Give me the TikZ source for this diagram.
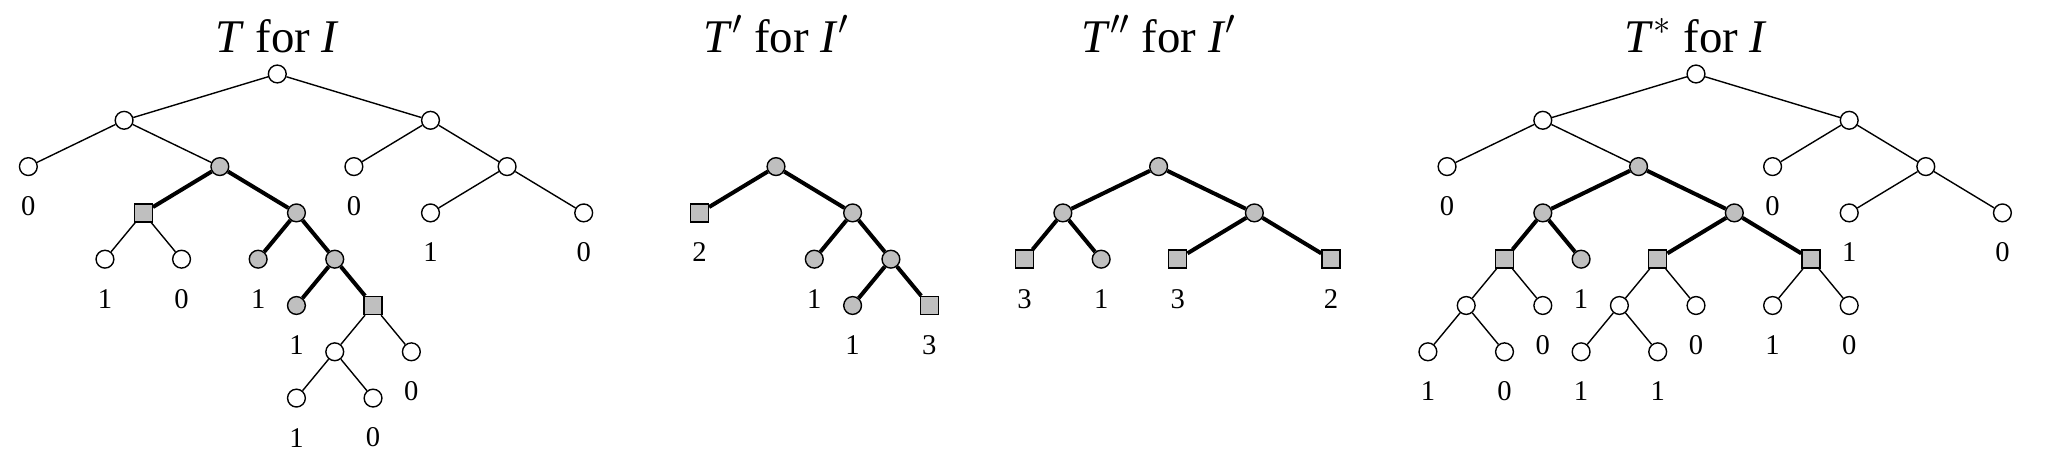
\documentclass[tikz,border=0pt]{standalone}
\usepackage{fontspec}
\setmainfont{Liberation Serif}
\pgfdeclarelayer{bg}
\pgfsetlayers{bg,main}
\tikzset{
  wn/.style={circle, draw, line width=0.7pt, fill=white, inner sep=0pt, minimum size=8.9pt},
  gn/.style={wn, fill=black!25},
  sq/.style={rectangle, draw, line width=0.7pt, fill=black!25, inner sep=0pt, minimum size=9pt},
  thn/.style={line width=0.7pt},
  thk/.style={line width=2pt},
  lab/.style={inner sep=0pt, font=\fontsize{14.3}{16}\selectfont},
  ttl/.style={inner sep=0pt, anchor=base, font=\fontsize{23.4}{28}\selectfont},
  tree/.style={x=19.15pt, y=-23.15pt},
}
\newcommand\leaflab[2]{\node[lab] (l#1) at ([yshift=-19.75pt]#1) {#2};}
\begin{document}
\begin{tikzpicture}[x=0.5pt,y=-0.5pt]
\useasboundingbox (0,0) rectangle (2045,469);

% ---------------- T for I ----------------
\begin{scope}[shift={(138.65pt,-37pt)}, tree]
\node[ttl] (tt1) at (0,0) [yshift=10.65pt] {\textit{T} for \textit{I}};
\node[wn] (t0) at (0,0) {};
\node[wn] (t1) at (-4,1) {};
\node[wn] (t2) at (4,1) {};
\node[wn] (t3) at (-6.5,2) {};
\node[gn] (t4) at (-1.5,2) {};
\node[wn] (t5) at (2,2) {};
\node[wn] (t6) at (6,2) {};
\node[sq] (t7) at (-3.5,3) {};
\node[gn] (t8) at (0.5,3) {};
\node[wn] (t9) at (4,3) {};
\node[wn] (t10) at (8,3) {};
\node[wn] (t11) at (-4.5,4) {};
\node[wn] (t12) at (-2.5,4) {};
\node[gn] (t13) at (-0.5,4) {};
\node[gn] (t14) at (1.5,4) {};
\node[gn] (t15) at (0.5,5) {};
\node[sq] (t16) at (2.5,5) {};
\node[wn] (t17) at (1.5,6) {};
\node[wn] (t18) at (3.5,6) {};
\node[wn] (t19) at (0.5,7) {};
\node[wn] (t20) at (2.5,7) {};
\begin{pgfonlayer}{bg}
\foreach \a/\b in {t0/t1,t0/t2,t1/t3,t1/t4,t2/t5,t2/t6,t6/t9,t6/t10,t7/t11,t7/t12,t16/t17,t16/t18,t17/t19,t17/t20}
  \draw[thn] (\a) -- (\b);
\foreach \a/\b in {t4/t7,t4/t8,t8/t13,t8/t14,t14/t15,t14/t16}
  \draw[thk] (\a) -- (\b);
\end{pgfonlayer}
\leaflab{t3}{0}
\leaflab{t5}{0}
\leaflab{t9}{1}
\leaflab{t10}{0}
\leaflab{t11}{1}
\leaflab{t12}{0}
\leaflab{t13}{1}
\leaflab{t15}{1}
\leaflab{t18}{0}
\leaflab{t19}{1}
\leaflab{t20}{0}
\end{scope}

% ---------------- T' for I' ----------------
\begin{scope}[shift={(388pt,-37pt)}, tree]
\node[ttl] (tt2) at (0,0) [yshift=10.65pt] {\textit{T}$'$ for \textit{I}$'$};
\node[gn] (p0) at (0,2) {};
\node[sq] (p1) at (-2,3) {};
\node[gn] (p2) at (2,3) {};
\node[gn] (p3) at (1,4) {};
\node[gn] (p4) at (3,4) {};
\node[gn] (p5) at (2,5) {};
\node[sq] (p6) at (4,5) {};
\begin{pgfonlayer}{bg}
\foreach \a/\b in {p0/p1,p0/p2,p2/p3,p2/p4,p4/p5,p4/p6}
  \draw[thk] (\a) -- (\b);
\end{pgfonlayer}
\leaflab{p1}{2}
\leaflab{p3}{1}
\leaflab{p5}{1}
\leaflab{p6}{3}
\end{scope}

% ---------------- T'' for I' ----------------
\begin{scope}[shift={(579.3pt,-37pt)}, tree]
\node[ttl] (tt3) at (0,0) [yshift=10.65pt] {\textit{T}$''$ for \textit{I}$'$};
\node[gn] (q0) at (0,2) {};
\node[gn] (q1) at (-2.5,3) {};
\node[gn] (q2) at (2.5,3) {};
\node[sq] (q3) at (-3.5,4) {};
\node[gn] (q4) at (-1.5,4) {};
\node[sq] (q5) at (0.5,4) {};
\node[sq] (q6) at (4.5,4) {};
\begin{pgfonlayer}{bg}
\foreach \a/\b in {q0/q1,q0/q2,q1/q3,q1/q4,q2/q5,q2/q6}
  \draw[thk] (\a) -- (\b);
\end{pgfonlayer}
\leaflab{q3}{3}
\leaflab{q4}{1}
\leaflab{q5}{3}
\leaflab{q6}{2}
\end{scope}

% ---------------- T* for I ----------------
\begin{scope}[shift={(848pt,-37pt)}, tree]
\node[ttl] (tt4) at (0,0) [yshift=10.65pt] {\textit{T}$^{*}$ for \textit{I}};
\node[wn] (s0) at (0,0) {};
\node[wn] (s1) at (-4,1) {};
\node[wn] (s2) at (4,1) {};
\node[wn] (s3) at (-6.5,2) {};
\node[gn] (s4) at (-1.5,2) {};
\node[wn] (s5) at (2,2) {};
\node[wn] (s6) at (6,2) {};
\node[gn] (s7) at (-4,3) {};
\node[gn] (s8) at (1,3) {};
\node[wn] (s9) at (4,3) {};
\node[wn] (s10) at (8,3) {};
\node[sq] (s11) at (-5,4) {};
\node[gn] (s12) at (-3,4) {};
\node[sq] (s13) at (-1,4) {};
\node[sq] (s14) at (3,4) {};
\node[wn] (s15) at (-6,5) {};
\node[wn] (s16) at (-4,5) {};
\node[wn] (s17) at (-2,5) {};
\node[wn] (s18) at (0,5) {};
\node[wn] (s19) at (2,5) {};
\node[wn] (s20) at (4,5) {};
\node[wn] (s21) at (-7,6) {};
\node[wn] (s22) at (-5,6) {};
\node[wn] (s23) at (-3,6) {};
\node[wn] (s24) at (-1,6) {};
\begin{pgfonlayer}{bg}
\foreach \a/\b in {s0/s1,s0/s2,s1/s3,s1/s4,s2/s5,s2/s6,s6/s9,s6/s10,s11/s15,s11/s16,s13/s17,s13/s18,s14/s19,s14/s20,s15/s21,s15/s22,s17/s23,s17/s24}
  \draw[thn] (\a) -- (\b);
\foreach \a/\b in {s4/s7,s4/s8,s7/s11,s7/s12,s8/s13,s8/s14}
  \draw[thk] (\a) -- (\b);
\end{pgfonlayer}
\leaflab{s3}{0}
\leaflab{s5}{0}
\leaflab{s9}{1}
\leaflab{s10}{0}
\leaflab{s12}{1}
\leaflab{s16}{0}
\leaflab{s18}{0}
\leaflab{s19}{1}
\leaflab{s20}{0}
\leaflab{s21}{1}
\leaflab{s22}{0}
\leaflab{s23}{1}
\leaflab{s24}{1}
\end{scope}
\end{tikzpicture}
\end{document}
